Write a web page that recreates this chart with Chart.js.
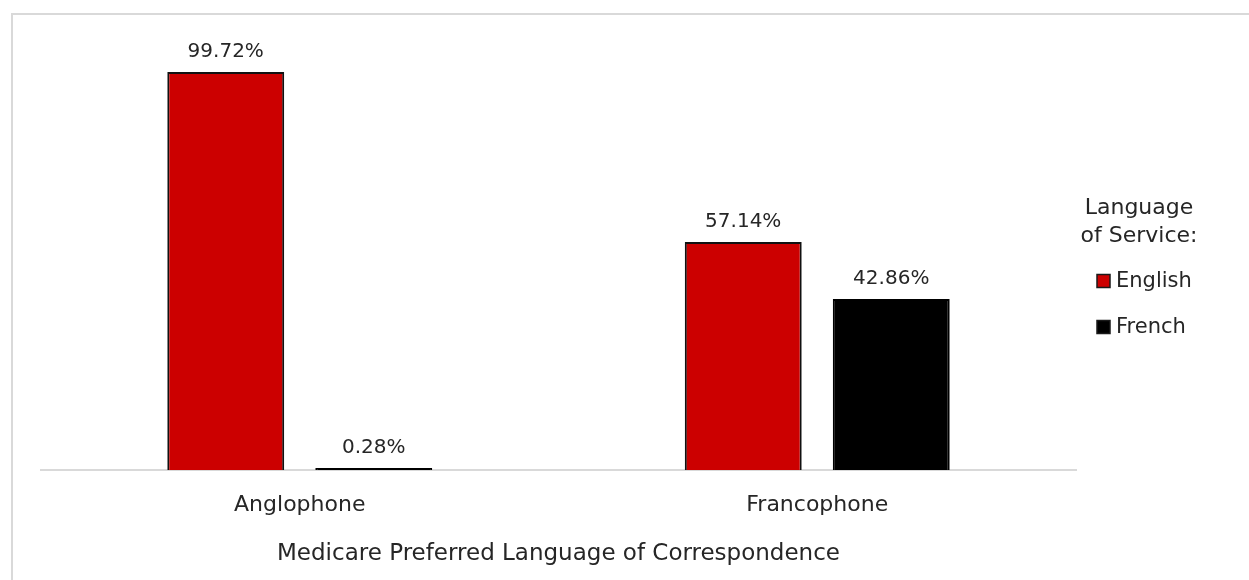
<!DOCTYPE html>
<html>
<head>
<meta charset="utf-8">
<script src="https://cdn.jsdelivr.net/npm/chart.js@4"></script>
<style>
  body { margin: 0; background: #fff; }
  .frame {
    position: absolute; left: 11px; top: 13px; width: 1400px; height: 700px;
    border-left: 2px solid #d9d9d9; border-top: 2px solid #d9d9d9;
  }
  .wrap { position: absolute; left: 0; top: 0; width: 1249px; height: 580px; }
</style>
</head>
<body>
<div class="frame"></div>
<div class="wrap"><canvas id="chart"></canvas></div>
<script>
// chart data
const categories = ['Anglophone', 'Francophone'];
const seriesNames = ['English', 'French'];
const englishValues = [99.72, 57.14];
const frenchValues = [0.28, 42.86];
const legendTitle = ['Language', 'of Service:'];
const axisTitle = 'Medicare Preferred Language of Correspondence';

const FONT = "'DejaVu Sans', sans-serif";
const TEXT = '#262626';

// value labels above each bar
const barLabels = {
    id: 'barLabels',
    afterDatasetsDraw(chart) {
        const ctx = chart.ctx;
        ctx.save();
        ctx.font = '20px ' + FONT;
        ctx.fillStyle = TEXT;
        ctx.textAlign = 'center';
        ctx.textBaseline = 'alphabetic';
        chart.data.datasets.forEach((ds, i) => {
            chart.getDatasetMeta(i).data.forEach((bar, j) => {
                ctx.fillText(ds.data[j].toFixed(2) + '%', bar.x, bar.y - 15);
            });
        });
        ctx.restore();
    }
};

// legend on the right with a two line title
const sideLegend = {
    id: 'sideLegend',
    afterDraw(chart) {
        const ctx = chart.ctx;
        const cx = 1139;
        ctx.save();
        ctx.fillStyle = TEXT;
        ctx.textBaseline = 'middle';
        ctx.textAlign = 'center';
        ctx.font = '22px ' + FONT;
        legendTitle.forEach((line, i) => ctx.fillText(line, cx, 208 + i * 28));
        ctx.font = '21px ' + FONT;
        ctx.textAlign = 'left';
        chart.data.datasets.forEach((ds, i) => {
            const y = 281 + i * 46;
            ctx.fillStyle = ds.backgroundColor;
            ctx.fillRect(1097, y - 6.5, 13, 13);
            ctx.strokeStyle = '#1a1a1a';
            ctx.lineWidth = 1.5;
            ctx.strokeRect(1097, y - 6.5, 13, 13);
            ctx.fillStyle = TEXT;
            ctx.fillText(ds.label, 1116, y + 1);
        });
        ctx.restore();
    }
};

new Chart(document.getElementById('chart'), {
    type: 'bar',
    data: {
        labels: categories,
        datasets: [{
            label: seriesNames[0],
            data: englishValues,
            backgroundColor: '#cc0000',
            borderColor: '#111111',
            borderWidth: 2
        }, {
            label: seriesNames[1],
            data: frenchValues,
            backgroundColor: '#000000',
            borderColor: '#000000',
            borderWidth: 2,
            minBarLength: 2
        }]
    },
    options: {
        responsive: true,
        maintainAspectRatio: false,
        animation: false,
        layout: { padding: { left: 41, right: 173, top: 71, bottom: 12 } },
        datasets: { bar: { categoryPercentage: 0.572, barPercentage: 0.79 } },
        plugins: {
            legend: { display: false },
            tooltip: { enabled: false }
        },
        scales: {
            y: { display: false, min: 0, max: 100 },
            x: {
                grid: { display: false, drawTicks: false },
                border: { display: true, color: '#d9d9d9', width: 2 },
                ticks: { color: TEXT, font: { family: FONT, size: 22 }, padding: 22 },
                title: {
                    display: true,
                    text: axisTitle,
                    color: TEXT,
                    font: { family: FONT, size: 23 },
                    padding: { top: 0, bottom: 0 }
                }
            }
        }
    },
    plugins: [barLabels, sideLegend]
});
</script>
</body>
</html>
